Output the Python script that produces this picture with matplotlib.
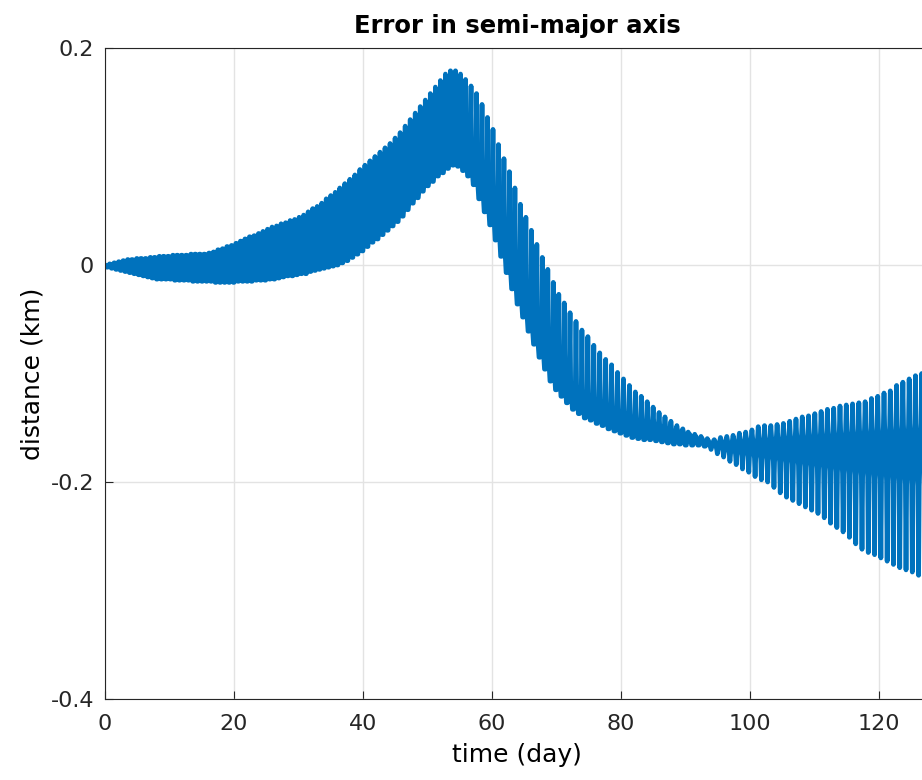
import numpy as np
import matplotlib
matplotlib.use('Agg')
import matplotlib.pyplot as plt

plt.rcParams['font.family'] = ['DejaVu Sans']

# the oscillation gets slower with time: start day, period (day) and cycle count per stretch
seg_start = [0, 36.4, 56.75, 72.1, 90.55]
seg_period = [0.70, 0.78, 0.85, 0.92, 0.975]
seg_cycles = [52, 26, 18, 20, 39]

# peak (hi) and trough (lo) of each cycle, km
hi = [0.000, 0.001, 0.002, 0.003, 0.004, 0.005, 0.005, 0.006, 0.006, 0.006,
      0.007, 0.007, 0.008, 0.008, 0.008, 0.009, 0.009, 0.009, 0.009, 0.010,
      0.010, 0.010, 0.010, 0.011, 0.012, 0.014, 0.015, 0.017, 0.018, 0.020,
      0.022, 0.024, 0.026, 0.027, 0.029, 0.031, 0.033, 0.035, 0.036, 0.038,
      0.039, 0.041, 0.042, 0.044, 0.046, 0.049, 0.052, 0.054, 0.057, 0.061,
      0.064, 0.067,
      0.071, 0.075, 0.079, 0.083, 0.088, 0.092, 0.096, 0.100, 0.104, 0.108,
      0.112, 0.117, 0.122, 0.128, 0.134, 0.140, 0.146, 0.152, 0.158, 0.164,
      0.170, 0.176, 0.179, 0.179, 0.176, 0.171,
      0.165, 0.158, 0.148, 0.136, 0.125, 0.111, 0.098, 0.086, 0.071, 0.056,
      0.044, 0.032, 0.019, 0.007, -0.004, -0.016, -0.027, -0.035,
      -0.044, -0.052, -0.060, -0.066, -0.074, -0.081, -0.087, -0.092, -0.099, -0.105,
      -0.111, -0.117, -0.121, -0.126, -0.131, -0.136, -0.140, -0.144, -0.148, -0.151,
      -0.156, -0.160, -0.161, -0.162, -0.161, -0.159, -0.158, -0.157, -0.155, -0.154,
      -0.152, -0.149, -0.148, -0.148, -0.147, -0.146, -0.144, -0.142, -0.140, -0.139,
      -0.137, -0.135, -0.133, -0.132, -0.130, -0.129, -0.128, -0.127, -0.126, -0.123,
      -0.121, -0.118, -0.116, -0.111, -0.108, -0.105, -0.102, -0.100, -0.097]
lo = [-0.002, -0.003, -0.004, -0.005, -0.006, -0.007, -0.008, -0.009, -0.010, -0.011,
      -0.012, -0.013, -0.013, -0.013, -0.013, -0.014, -0.014, -0.014, -0.014, -0.015,
      -0.015, -0.015, -0.015, -0.015, -0.016, -0.016, -0.016, -0.016, -0.016, -0.015,
      -0.015, -0.015, -0.015, -0.014, -0.014, -0.014, -0.013, -0.013, -0.012, -0.011,
      -0.010, -0.010, -0.009, -0.008, -0.008, -0.006, -0.005, -0.004, -0.003, -0.002,
      -0.001, 0.000,
      0.002, 0.004, 0.007, 0.010, 0.013, 0.017, 0.021, 0.024, 0.028, 0.032,
      0.036, 0.040, 0.045, 0.051, 0.057, 0.062, 0.068, 0.073, 0.077, 0.082,
      0.085, 0.089, 0.092, 0.091, 0.087, 0.082,
      0.074, 0.061, 0.049, 0.037, 0.023, 0.008, -0.007, -0.022, -0.036, -0.048,
      -0.061, -0.073, -0.085, -0.096, -0.107, -0.115, -0.121, -0.127,
      -0.133, -0.137, -0.141, -0.143, -0.146, -0.148, -0.151, -0.153, -0.155, -0.157,
      -0.159, -0.160, -0.161, -0.161, -0.162, -0.163, -0.164, -0.165, -0.165, -0.166,
      -0.166, -0.166, -0.167, -0.170, -0.174, -0.177, -0.181, -0.184, -0.188, -0.191,
      -0.195, -0.198, -0.200, -0.205, -0.210, -0.214, -0.217, -0.220, -0.223, -0.226,
      -0.229, -0.233, -0.238, -0.242, -0.246, -0.251, -0.257, -0.262, -0.265, -0.267,
      -0.270, -0.273, -0.276, -0.279, -0.281, -0.283, -0.286, -0.287, -0.288]
# upper / lower edge of the dense core the trace keeps returning to in each cycle
mid_hi = [0.000, 0.001, 0.002, 0.003, 0.004, 0.005, 0.005, 0.006, 0.006, 0.006,
          0.007, 0.007, 0.008, 0.008, 0.008, 0.009, 0.009, 0.009, 0.009, 0.010,
          0.010, 0.010, 0.010, 0.011, 0.012, 0.014, 0.015, 0.017, 0.018, 0.020,
          0.022, 0.024, 0.026, 0.027, 0.029, 0.030, 0.030, 0.030, 0.030, 0.030,
          0.030, 0.030, 0.030, 0.030, 0.030, 0.031, 0.032, 0.033, 0.033, 0.034,
          0.035, 0.036,
          0.036, 0.037, 0.038, 0.039, 0.040, 0.042, 0.043, 0.045, 0.047, 0.050,
          0.053, 0.057, 0.062, 0.066, 0.071, 0.076, 0.081, 0.086, 0.090, 0.095,
          0.100, 0.104, 0.108, 0.109, 0.109, 0.105,
          0.097, 0.087, 0.076, 0.064, 0.052, 0.038, 0.022, 0.006, -0.009, -0.023,
          -0.037, -0.050, -0.063, -0.071, -0.079, -0.087, -0.094, -0.100,
          -0.107, -0.111, -0.115, -0.118, -0.122, -0.124, -0.127, -0.130, -0.133, -0.135,
          -0.138, -0.141, -0.142, -0.143, -0.145, -0.147, -0.149, -0.151, -0.152, -0.154,
          -0.156, -0.158, -0.160, -0.162, -0.162, -0.161, -0.161, -0.160, -0.160, -0.159,
          -0.159, -0.158, -0.158, -0.157, -0.157, -0.156, -0.156, -0.155, -0.155, -0.154,
          -0.154, -0.153, -0.153, -0.152, -0.152, -0.151, -0.151, -0.150, -0.150, -0.149,
          -0.149, -0.148, -0.148, -0.147, -0.147, -0.146, -0.146, -0.145, -0.145]
mid_lo = [-0.002, -0.003, -0.004, -0.005, -0.006, -0.007, -0.008, -0.009, -0.010, -0.011,
          -0.012, -0.013, -0.013, -0.013, -0.013, -0.014, -0.014, -0.014, -0.014, -0.015,
          -0.015, -0.015, -0.015, -0.015, -0.016, -0.016, -0.016, -0.016, -0.016, -0.015,
          -0.015, -0.015, -0.015, -0.014, -0.014, -0.014, -0.013, -0.013, -0.012, -0.011,
          -0.010, -0.010, -0.009, -0.008, -0.008, -0.006, -0.005, -0.004, -0.003, -0.002,
          -0.001, 0.000,
          0.002, 0.004, 0.007, 0.010, 0.013, 0.017, 0.021, 0.024, 0.028, 0.032,
          0.036, 0.040, 0.045, 0.051, 0.057, 0.062, 0.068, 0.073, 0.077, 0.082,
          0.085, 0.089, 0.092, 0.091, 0.087, 0.082,
          0.074, 0.061, 0.049, 0.037, 0.023, 0.008, -0.007, -0.022, -0.036, -0.048,
          -0.061, -0.073, -0.085, -0.096, -0.107, -0.115, -0.121, -0.127,
          -0.133, -0.137, -0.141, -0.143, -0.146, -0.148, -0.151, -0.153, -0.155, -0.157,
          -0.159, -0.160, -0.161, -0.161, -0.162, -0.163, -0.164, -0.165, -0.165, -0.166,
          -0.166, -0.166, -0.167, -0.168, -0.170, -0.172, -0.174, -0.175, -0.176, -0.177,
          -0.178, -0.179, -0.180, -0.181, -0.182, -0.183, -0.184, -0.185, -0.186, -0.187,
          -0.188, -0.189, -0.190, -0.191, -0.192, -0.193, -0.194, -0.195, -0.196, -0.197,
          -0.198, -0.199, -0.200, -0.201, -0.202, -0.203, -0.204, -0.205, -0.206]

xticks = [0, 20, 40, 60, 80, 100, 120]
yticks = [-0.4, -0.2, 0, 0.2]
ytick_labels = ['-0.4', '-0.2', '0', '0.2']

blue = '#0072BD'

# cycle start days and periods
t0 = np.concatenate([s + np.arange(n) * p for s, p, n in zip(seg_start, seg_period, seg_cycles)])
per = np.repeat(seg_period, seg_cycles)

# trace through each cycle: peak, core, trough, core
phase = np.array([0.0, 0.1, 0.4, 0.5, 0.6, 0.9])
t = (t0[:, None] + phase[None, :] * per[:, None]).ravel()
y = np.column_stack([hi, mid_hi, mid_lo, lo, mid_lo, mid_hi]).ravel()

fig = plt.figure(figsize=(9.22, 7.8), dpi=100)
ax = fig.add_axes([105/922, 81/780, 824/922, 651/780])

ax.plot(t, y, color=blue, lw=3.4, solid_joinstyle='round', solid_capstyle='round')

ax.set_xlim(0, 127.75)
ax.set_ylim(-0.4, 0.2)
ax.set_xticks(xticks)
ax.set_yticks(yticks)
ax.set_yticklabels(ytick_labels)
ax.grid(True, color='#e3e3e3', lw=1.0)
ax.set_axisbelow(True)
for s in ax.spines.values():
    s.set_color('#262626')
    s.set_linewidth(0.8)
ax.tick_params(direction='in', length=6, width=0.8, colors='#262626',
               labelsize=16, top=False, right=False)
ax.tick_params(axis='x', pad=11)
ax.tick_params(axis='y', pad=8)

ax.set_title('Error in semi-major axis', fontsize=17.5, fontweight='bold', pad=11)
ax.set_xlabel('time (day)', fontsize=18, labelpad=6)
ax.set_ylabel('distance (km)', fontsize=18, labelpad=4)

fig.savefig('out.png', dpi=100)
